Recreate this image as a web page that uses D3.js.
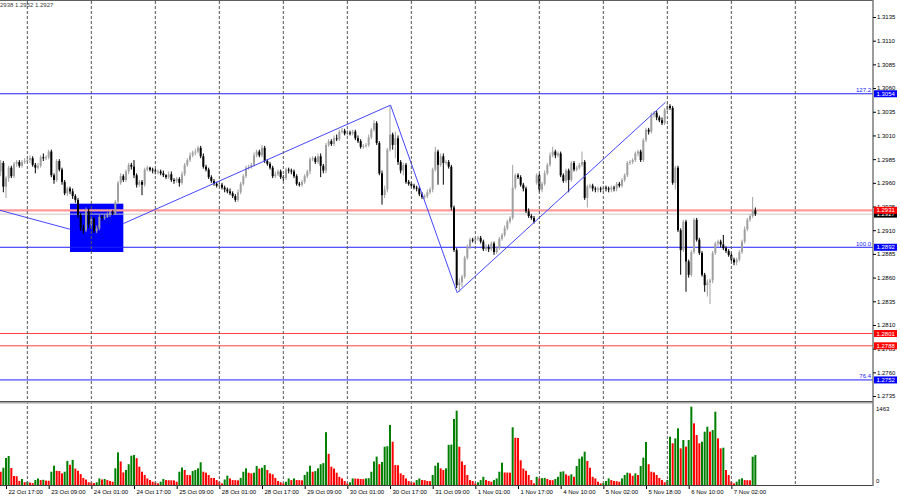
<!DOCTYPE html>
<html><head><meta charset="utf-8">
<script src="https://cdn.jsdelivr.net/npm/d3@7"></script>
<style>
body{margin:0;background:#fff;}
svg{display:block;font-family:"Liberation Sans",Arial,sans-serif;}
</style>
</head><body>
<svg id="chart" width="900" height="500"></svg>
<script>
// ---------- DATA (GBPUSD H1) ----------
const opens = [
1.2972,1.2981,1.2956,1.2965,1.2976,1.2967,1.2980,1.2982,1.2978,1.2982,1.2983,1.2984,1.2986,1.2979,1.2976,1.2978,1.2987,1.2986,1.2987,1.2993,
1.2968,1.2963,1.2983,1.2974,1.2961,1.2949,1.2954,1.2951,1.2946,1.2942,1.2926,1.2912,1.2910,1.2930,1.2916,1.2922,1.2909,1.2912,1.2924,1.2923,
1.2924,1.2926,1.2929,1.2928,1.2940,1.2960,1.2967,1.2963,1.2972,1.2979,1.2977,1.2968,1.2958,1.2961,1.2958,1.2974,1.2976,1.2974,1.2973,1.2972,
1.2972,1.2970,1.2968,1.2966,1.2969,1.2963,1.2962,1.2964,1.2960,1.2969,1.2979,1.2984,1.2989,1.2992,1.2993,1.2997,1.2988,1.2977,1.2974,1.2966,
1.2962,1.2959,1.2957,1.2958,1.2955,1.2953,1.2951,1.2949,1.2946,1.2942,1.2950,1.2959,1.2967,1.2976,1.2977,1.2979,1.2989,1.2993,1.2989,1.2997,
1.2983,1.2980,1.2976,1.2967,1.2969,1.2972,1.2966,1.2965,1.2974,1.2973,1.2972,1.2967,1.2959,1.2958,1.2961,1.2967,1.2972,1.2985,1.2986,1.2982,
1.2988,1.2978,1.2973,1.3000,1.3004,1.3001,1.3007,1.3006,1.3014,1.3015,1.3012,1.3013,1.3012,1.3014,1.3007,1.3004,1.2998,1.2999,1.3000,1.3008,
1.3016,1.3023,1.3002,1.2970,1.2947,1.2953,1.2995,1.3011,1.3000,1.3007,1.2982,1.2973,1.2979,1.2961,1.2959,1.2957,1.2955,1.2954,1.2948,1.2945,
1.2946,1.2950,1.2953,1.2974,1.2993,1.2979,1.2988,1.2981,1.2982,1.2977,1.2934,1.2889,1.2852,1.2855,1.2861,1.2881,1.2892,1.2900,1.2899,1.2901,
1.2902,1.2898,1.2890,1.2892,1.2890,1.2896,1.2887,1.2891,1.2901,1.2905,1.2912,1.2919,1.2923,1.2955,1.2968,1.2966,1.2958,1.2954,1.2930,1.2925,
1.2923,1.2960,1.2968,1.2953,1.2959,1.2970,1.2979,1.2989,1.2993,1.2989,1.2991,1.2968,1.2962,1.2973,1.2963,1.2981,1.2974,1.2976,1.2979,1.2982,
1.2944,1.2956,1.2957,1.2954,1.2953,1.2954,1.2953,1.2955,1.2954,1.2953,1.2955,1.2954,1.2959,1.2957,1.2963,1.2968,1.2981,1.2982,1.2984,1.2991,
1.2993,1.2984,1.3005,1.3016,1.3014,1.3032,1.3034,1.3029,1.3026,1.3023,1.3037,1.3041,1.3039,1.2960,1.2976,1.2910,1.2889,1.2919,1.2877,1.2863,
1.2887,1.2921,1.2900,1.2886,1.2863,1.2852,1.2855,1.2857,1.2886,1.2896,1.2898,1.2895,1.2891,1.2888,1.2884,1.2879,1.2876,1.2879,1.2887,1.2898,
1.2911,1.2921,1.2925,1.2931];
const highs = [
1.2984,1.2983,1.2967,1.2978,1.2978,1.2982,1.2984,1.2984,1.2984,1.2986,1.2987,1.2989,1.2988,1.2981,1.2981,1.2989,1.2991,1.2989,1.2995,1.2995,
1.2970,1.2985,1.2985,1.2976,1.2963,1.2956,1.2956,1.2954,1.2948,1.2944,1.2928,1.2916,1.2934,1.2933,1.2924,1.2924,1.2915,1.2926,1.2926,1.2927,
1.2929,1.2931,1.2931,1.2942,1.2962,1.2970,1.2969,1.2974,1.2981,1.2981,1.2984,1.2970,1.2963,1.2963,1.2976,1.2978,1.2977,1.2976,1.2975,1.2974,
1.2974,1.2973,1.2969,1.2972,1.2972,1.2965,1.2966,1.2966,1.2972,1.2981,1.2986,1.2992,1.2994,1.2996,1.2999,1.2999,1.2991,1.2979,1.2976,1.2968,
1.2964,1.2961,1.2960,1.2960,1.2957,1.2955,1.2954,1.2951,1.2948,1.2953,1.2961,1.2969,1.2978,1.2979,1.2981,1.2992,1.2995,1.2995,1.3000,1.2999,
1.2985,1.2982,1.2978,1.2972,1.2974,1.2974,1.2968,1.2976,1.2976,1.2975,1.2974,1.2969,1.2961,1.2963,1.2969,1.2974,1.2987,1.2988,1.2988,1.2991,
1.2991,1.2980,1.3002,1.3006,1.3006,1.3010,1.3011,1.3016,1.3018,1.3017,1.3016,1.3015,1.3016,1.3016,1.3010,1.3006,1.3001,1.3002,1.3011,1.3018,
1.3026,1.3025,1.3004,1.2973,1.2957,1.2997,1.3041,1.3013,1.3014,1.3010,1.2984,1.2981,1.2981,1.2963,1.2961,1.2959,1.2957,1.2956,1.2950,1.2948,
1.2953,1.2955,1.2976,1.2998,1.2995,1.2991,1.2991,1.2984,1.2984,1.2979,1.2936,1.2891,1.2859,1.2863,1.2883,1.2895,1.2902,1.2902,1.2903,1.2904,
1.2904,1.2900,1.2895,1.2895,1.2898,1.2898,1.2893,1.2903,1.2907,1.2915,1.2921,1.2925,1.2979,1.2970,1.2970,1.2968,1.2960,1.2956,1.2933,1.2927,
1.2925,1.2970,1.2970,1.2961,1.2973,1.2981,1.2992,1.2998,1.2995,1.2993,1.2993,1.2970,1.2975,1.2975,1.2983,1.2983,1.2978,1.2981,1.2993,1.2984,
1.2958,1.2959,1.2959,1.2956,1.2956,1.2956,1.2957,1.2957,1.2956,1.2957,1.2957,1.2961,1.2961,1.2965,1.2970,1.2983,1.2984,1.2986,1.2993,1.2995,
1.2995,1.3007,1.3018,1.3018,1.3034,1.3036,1.3036,1.3031,1.3029,1.3039,1.3045,1.3043,1.3041,1.2978,1.2978,1.2912,1.2921,1.2921,1.2879,1.2889,
1.2923,1.2923,1.2902,1.2888,1.2865,1.2858,1.2859,1.2888,1.2898,1.2900,1.2900,1.2905,1.2893,1.2890,1.2886,1.2881,1.2881,1.2889,1.2900,1.2914,
1.2923,1.2927,1.2945,1.2934];
const lows = [
1.2967,1.2950,1.2944,1.2961,1.2965,1.2965,1.2977,1.2976,1.2976,1.2980,1.2981,1.2981,1.2977,1.2970,1.2974,1.2976,1.2983,1.2984,1.2985,1.2966,
1.2959,1.2961,1.2972,1.2958,1.2947,1.2946,1.2948,1.2943,1.2939,1.2923,1.2909,1.2906,1.2908,1.2912,1.2912,1.2907,1.2907,1.2910,1.2920,1.2921,
1.2923,1.2924,1.2926,1.2926,1.2938,1.2958,1.2961,1.2961,1.2969,1.2974,1.2965,1.2955,1.2956,1.2947,1.2956,1.2972,1.2972,1.2970,1.2969,1.2969,
1.2968,1.2966,1.2964,1.2964,1.2961,1.2959,1.2960,1.2956,1.2958,1.2967,1.2977,1.2982,1.2987,1.2989,1.2991,1.2986,1.2975,1.2972,1.2964,1.2960,
1.2957,1.2955,1.2955,1.2953,1.2950,1.2949,1.2947,1.2944,1.2940,1.2940,1.2948,1.2957,1.2965,1.2974,1.2975,1.2977,1.2987,1.2987,1.2987,1.2981,
1.2978,1.2974,1.2965,1.2965,1.2967,1.2964,1.2962,1.2963,1.2970,1.2969,1.2965,1.2957,1.2956,1.2956,1.2959,1.2965,1.2969,1.2983,1.2980,1.2980,
1.2966,1.2970,1.2970,1.2998,1.2999,1.2999,1.3004,1.3004,1.3012,1.3010,1.3010,1.3010,1.3010,1.3005,1.3002,1.2996,1.2996,1.2997,1.2998,1.3006,
1.3014,1.3000,1.2968,1.2937,1.2944,1.2950,1.2993,1.2995,1.2986,1.2979,1.2970,1.2968,1.2959,1.2957,1.2955,1.2953,1.2951,1.2946,1.2943,1.2943,
1.2944,1.2948,1.2950,1.2972,1.2958,1.2977,1.2958,1.2979,1.2975,1.2931,1.2887,1.2849,1.2845,1.2850,1.2859,1.2879,1.2890,1.2897,1.2897,1.2899,
1.2896,1.2888,1.2888,1.2887,1.2888,1.2884,1.2885,1.2889,1.2899,1.2903,1.2910,1.2917,1.2921,1.2953,1.2964,1.2956,1.2951,1.2928,1.2923,1.2921,
1.2917,1.2958,1.2950,1.2950,1.2957,1.2968,1.2977,1.2987,1.2986,1.2987,1.2966,1.2960,1.2960,1.2950,1.2961,1.2972,1.2972,1.2974,1.2977,1.2942,
1.2934,1.2954,1.2951,1.2950,1.2950,1.2950,1.2950,1.2951,1.2950,1.2950,1.2951,1.2951,1.2955,1.2955,1.2961,1.2966,1.2979,1.2980,1.2982,1.2988,
1.2982,1.2982,1.3003,1.3011,1.3012,1.3029,1.3026,1.3024,1.3021,1.3021,1.3035,1.3037,1.2958,1.2953,1.2908,1.2863,1.2887,1.2845,1.2860,1.2861,
1.2885,1.2898,1.2884,1.2861,1.2845,1.2840,1.2832,1.2854,1.2884,1.2893,1.2892,1.2889,1.2886,1.2882,1.2877,1.2873,1.2873,1.2877,1.2885,1.2896,
1.2909,1.2919,1.2923,1.2925];
const closes = [
1.2981,1.2956,1.2965,1.2976,1.2967,1.2980,1.2982,1.2978,1.2982,1.2983,1.2984,1.2986,1.2979,1.2976,1.2978,1.2987,1.2986,1.2987,1.2993,1.2968,
1.2963,1.2983,1.2974,1.2961,1.2949,1.2954,1.2951,1.2946,1.2942,1.2926,1.2912,1.2910,1.2930,1.2916,1.2922,1.2909,1.2912,1.2924,1.2923,1.2924,
1.2926,1.2929,1.2928,1.2940,1.2960,1.2967,1.2963,1.2972,1.2979,1.2977,1.2968,1.2958,1.2961,1.2958,1.2974,1.2976,1.2974,1.2973,1.2972,1.2972,
1.2970,1.2968,1.2966,1.2969,1.2963,1.2962,1.2964,1.2960,1.2969,1.2979,1.2984,1.2989,1.2992,1.2993,1.2997,1.2988,1.2977,1.2974,1.2966,1.2962,
1.2959,1.2957,1.2958,1.2955,1.2953,1.2951,1.2949,1.2946,1.2942,1.2950,1.2959,1.2967,1.2976,1.2977,1.2979,1.2989,1.2993,1.2989,1.2997,1.2983,
1.2980,1.2976,1.2967,1.2969,1.2972,1.2966,1.2965,1.2974,1.2973,1.2972,1.2967,1.2959,1.2958,1.2961,1.2967,1.2972,1.2985,1.2986,1.2982,1.2988,
1.2978,1.2973,1.3000,1.3004,1.3001,1.3007,1.3006,1.3014,1.3015,1.3012,1.3013,1.3012,1.3014,1.3007,1.3004,1.2998,1.2999,1.3000,1.3008,1.3016,
1.3023,1.3002,1.2970,1.2947,1.2953,1.2995,1.3011,1.3000,1.3007,1.2982,1.2973,1.2979,1.2961,1.2959,1.2957,1.2955,1.2954,1.2948,1.2945,1.2946,
1.2950,1.2953,1.2974,1.2993,1.2979,1.2988,1.2981,1.2982,1.2977,1.2934,1.2889,1.2852,1.2855,1.2861,1.2881,1.2892,1.2900,1.2899,1.2901,1.2902,
1.2898,1.2890,1.2892,1.2890,1.2896,1.2887,1.2891,1.2901,1.2905,1.2912,1.2919,1.2923,1.2955,1.2968,1.2966,1.2958,1.2954,1.2930,1.2925,1.2923,
1.2919,1.2968,1.2953,1.2959,1.2970,1.2979,1.2989,1.2993,1.2989,1.2991,1.2968,1.2962,1.2973,1.2963,1.2981,1.2974,1.2976,1.2979,1.2982,1.2944,
1.2956,1.2957,1.2954,1.2953,1.2954,1.2953,1.2955,1.2954,1.2953,1.2955,1.2954,1.2959,1.2957,1.2963,1.2968,1.2981,1.2982,1.2984,1.2991,1.2993,
1.2984,1.3005,1.3016,1.3014,1.3032,1.3034,1.3029,1.3026,1.3023,1.3037,1.3041,1.3039,1.2960,1.2976,1.2910,1.2889,1.2919,1.2877,1.2863,1.2887,
1.2921,1.2900,1.2886,1.2863,1.2852,1.2855,1.2857,1.2886,1.2896,1.2898,1.2895,1.2891,1.2888,1.2884,1.2879,1.2876,1.2879,1.2887,1.2898,1.2911,
1.2921,1.2925,1.2931,1.2927];
const volumes = [
243,316,494,530,311,165,160,75,110,50,60,45,35,90,120,90,95,80,78,243,
353,260,255,213,243,440,370,460,300,260,200,130,100,50,45,35,50,120,100,110,
90,73,60,305,597,430,230,275,380,536,550,490,335,243,183,120,90,60,45,30,
60,110,90,88,86,84,60,243,320,275,183,180,255,275,305,415,243,225,183,130,
128,90,60,30,100,170,120,90,88,85,130,243,305,225,213,225,347,300,316,365,
275,213,195,130,73,50,30,60,120,90,120,90,88,85,183,243,353,243,255,305,
380,400,966,570,335,300,225,150,120,73,30,50,120,118,115,110,108,120,125,243,
430,520,380,420,700,710,1097,792,365,360,213,183,120,73,50,45,90,120,90,88,
73,70,183,353,408,305,275,305,735,740,1207,1359,700,430,365,183,90,73,30,50,
90,150,90,73,60,90,120,243,408,230,228,225,1055,865,860,452,300,260,183,90,
30,150,120,125,130,110,90,88,110,150,243,250,195,170,195,150,347,480,520,610,
440,316,150,120,60,30,35,73,120,90,73,70,60,120,183,225,213,170,213,183,
347,500,786,380,243,230,183,130,90,50,90,883,762,853,1036,670,823,701,823,1432,
1128,914,762,792,975,1066,975,1006,1341,853,670,682,274,183,61,30,61,104,122,90,
88,86,518,548];

const timeLabels = ["22 Oct 17:00","23 Oct 09:00","24 Oct 01:00","24 Oct 17:00","25 Oct 09:00","28 Oct 01:00",
  "28 Oct 17:00","29 Oct 09:00","30 Oct 01:00","30 Oct 17:00","31 Oct 09:00","1 Nov 01:00","1 Nov 17:00",
  "4 Nov 10:00","5 Nov 02:00","5 Nov 18:00","6 Nov 10:00","7 Nov 02:00"];
const timeLabelBars = [2,18,34,50,66,82,98,114,130,146,162,178,194,210,226,242,258,274];
const gridBars = [10,34,58,82,106,130,154,178,202,226,250,274,298];
const priceTicks = [1.3135,1.3110,1.3085,1.3060,1.3035,1.3010,1.2985,1.2960,1.2935,1.2910,1.2885,1.2860,1.2835,1.2810,1.2785,1.2760,1.2735];
const volumeTicks = [1463, 0];
const headerText = "2938 1.2952 1.2927";

// horizontal level objects: price, fibo text, kind
const levelPrices = [1.3054, 1.2931, 1.2927, 1.2892, 1.2801, 1.2788, 1.2752];
const levelKinds  = ["fibo", "res",  "bid",  "fibo", "sup",  "sup",  "fibo"];
const levelTexts  = ["127.2", "",    "",     "100.0", "",    "",     "76.4"];
// zigzag trend segments: [barStart, priceStart, barEnd, priceEnd]
const trendSegments = [[-0.25,1.2931,26,1.2911],[46,1.2917,146.2,1.3042],[146.2,1.3042,171.2,1.2844],[171.2,1.2844,249.3,1.3045]];
// rectangle zone: bars and prices
const zoneBars = [26, 46];
const zonePrices = [1.2938, 1.2887];

// ---------- DRAWING ----------
const svg = d3.select("#chart");
const AX = 873, MAIN_B = 401, VOL_T = 403, VOL_B = 486;
const x = d3.scaleLinear().domain([0, 300]).range([0.67, 0.67 + 800]);
const y = d3.scaleLinear().domain([1.272977, 1.315294]).range([401, 0]);
const yv = d3.scaleLinear().domain([0, 1463]).range([485, 405]);
const FONT = 6;

svg.append("rect").attr("width",900).attr("height",500).attr("fill","#fff");
const defs = svg.append("defs");
defs.append("clipPath").attr("id","cm").append("rect").attr("x",0).attr("y",0).attr("width",AX).attr("height",MAIN_B);
defs.append("clipPath").attr("id","cv").append("rect").attr("x",0).attr("y",VOL_T).attr("width",AX).attr("height",VOL_B-VOL_T);

const main = svg.append("g").attr("clip-path","url(#cm)");
const vol = svg.append("g").attr("clip-path","url(#cv)");

// zone rectangle (background object)
main.append("rect")
  .attr("x", x(zoneBars[0])).attr("width", x(zoneBars[1]) - x(zoneBars[0]))
  .attr("y", y(zonePrices[0])).attr("height", y(zonePrices[1]) - y(zonePrices[0]))
  .attr("fill", "#0000ff");

// vertical grid
svg.append("g").selectAll("line").data(gridBars).join("line")
  .attr("x1", d=>x(d)).attr("x2", d=>x(d)).attr("y1", 1).attr("y2", VOL_B)
  .attr("stroke", "#555").attr("stroke-width", 1).attr("stroke-dasharray", "3,2");

// horizontal levels
const levelColor = {fibo:"#2020ff", res:"#ff9a9a", bid:"#c8c8c8", sup:"#ff4040"};
const levelWidth = {fibo:1, res:2.2, bid:1, sup:1};
levelPrices.forEach((p,k)=>{
  main.append("line").attr("x1",0).attr("x2",AX).attr("y1",y(p)).attr("y2",y(p))
    .attr("stroke", levelColor[levelKinds[k]]).attr("stroke-width", levelWidth[levelKinds[k]]);
});

// candles
const candles = main.append("g");
d3.range(closes.length).forEach(i=>{
  const up = closes[i] >= opens[i];
  const col = up ? "#a0a0a0" : "#000000";
  const cx = x(i);
  candles.append("line").attr("x1",cx).attr("x2",cx).attr("y1",y(highs[i])).attr("y2",y(lows[i]))
    .attr("stroke", col).attr("stroke-width", 1);
  const top = y(Math.max(opens[i], closes[i])), bot = y(Math.min(opens[i], closes[i]));
  candles.append("rect").attr("x", cx - 1).attr("width", 2)
    .attr("y", top).attr("height", Math.max(1, bot - top)).attr("fill", col);
});

// trend segments (zigzag)
main.append("g").selectAll("line").data(trendSegments).join("line")
  .attr("x1", d=>x(d[0])).attr("y1", d=>y(d[1])).attr("x2", d=>x(d[2])).attr("y2", d=>y(d[3]))
  .attr("stroke", "#4646ff").attr("stroke-width", 1);

// fibo level texts
levelPrices.forEach((p,k)=>{
  if (levelTexts[k]) main.append("text").attr("x", AX-2).attr("y", y(p)-1.5)
    .attr("text-anchor","end").attr("font-size",FONT).attr("fill","#2020ff").text(levelTexts[k]);
});

// volumes
vol.append("g").selectAll("rect").data(volumes).join("rect")
  .attr("x", (d,i)=>x(i)-1).attr("width", 2)
  .attr("y", d=>yv(d)).attr("height", d=>yv(0)-yv(d))
  .attr("fill", (d,i)=> (i>0 && d > volumes[i-1]) ? "#008000" : "#ff0000");

// frame
svg.append("line").attr("x1",0).attr("x2",AX).attr("y1",0.5).attr("y2",0.5).attr("stroke","#606060");
svg.append("line").attr("x1",0).attr("x2",AX).attr("y1",401.5).attr("y2",401.5).attr("stroke","#505050");
svg.append("rect").attr("x",0).attr("y",402).attr("width",AX).attr("height",1.5).attr("fill","#a8a8a8");
svg.append("line").attr("x1",0).attr("x2",AX).attr("y1",VOL_B-0.5).attr("y2",VOL_B-0.5).attr("stroke","#404040");
svg.append("line").attr("x1",AX).attr("x2",AX).attr("y1",0).attr("y2",VOL_B).attr("stroke","#7a7a7a").attr("stroke-width",1.5);

// price axis
const pAxis = svg.append("g").attr("transform",`translate(${AX},0)`)
  .call(d3.axisRight(y).tickValues(priceTicks).tickSize(3).tickPadding(1).tickFormat(d3.format(".4f")));
pAxis.select(".domain").remove();
pAxis.selectAll("text").attr("font-size",FONT).attr("font-family","Liberation Sans, Arial, sans-serif").attr("fill","#000");
pAxis.selectAll("line").attr("stroke","#000");

// volume axis labels
svg.append("g").selectAll("text").data(volumeTicks).join("text")
  .attr("x", AX+3).attr("y", d => d ? yv(d)+5.5 : yv(d)-2)
  .attr("font-size",FONT).attr("fill","#000").text(d=>d);

// axis boxes for levels
const boxColor = {fibo:"#0000ff", res:"#ff0000", bid:"#000000", sup:"#ff0000"};
const boxOrder = [0,2,1,3,4,5,6];
boxOrder.forEach(k=>{
  const p = levelPrices[k], yy = y(p);
  svg.append("rect").attr("x",AX+1).attr("y",yy-3.5).attr("width",23).attr("height",7).attr("fill",boxColor[levelKinds[k]]);
  svg.append("text").attr("x",AX+3.5).attr("y",yy).attr("dy","0.34em").attr("font-size",FONT).attr("fill","#fff")
    .text(d3.format(".4f")(p));
});

// time axis
const tAxis = svg.append("g").attr("transform",`translate(0,${VOL_B})`)
  .call(d3.axisBottom(x).tickValues(timeLabelBars).tickSize(3).tickFormat((d,k)=>timeLabels[k]));
tAxis.select(".domain").remove();
tAxis.selectAll("line").attr("stroke","#000");
tAxis.selectAll("text").attr("text-anchor","start").attr("x",2).attr("y",8).attr("dy",0)
  .attr("font-size",FONT).attr("font-family","Liberation Sans, Arial, sans-serif").attr("fill","#000");

// header
svg.append("text").attr("x",0).attr("y",7).attr("font-size",FONT).attr("fill","#404040").text(headerText);
</script>
</body></html>
